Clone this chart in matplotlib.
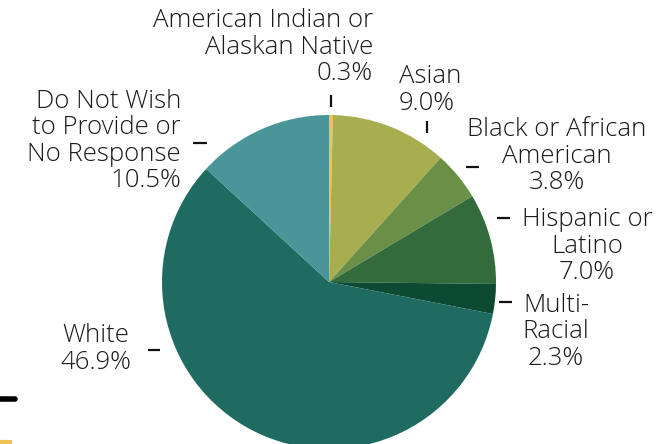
import matplotlib
matplotlib.use("Agg")
import matplotlib.pyplot as plt

# ---------- DATA ----------
categories = ["American Indian or\nAlaskan Native", "Asian", "Black or African\nAmerican",
              "Hispanic or\nLatino", "Multi-\nRacial", "White",
              "Do Not Wish\nto Provide or\nNo Response"]
shares = [0.3, 9.0, 3.8, 7.0, 2.3, 46.9, 10.5]
colors = ["#f0c050", "#a8ae50", "#6a9047", "#346b3c", "#0c4a33", "#1f6b62", "#4a9599"]

# label anchor (pixel coords, y from top), alignment and leader dash
label_pos = [(373, 47, "right"), (399, 90, "left"), (557, 156, "center"),
             (587, 246, "center"), (556, 332, "center"), (96, 349, "center"),
             (181, 141, "right")]
dashes = [((331, 95), (331, 107)), ((427, 121), (427, 133)), ((466, 167), (479, 167)),
          ((497, 218), (510, 218)), ((499, 302), (512, 302)), ((148, 350), (160, 350)),
          ((193, 143), (207, 143))]

W, H = 669, 444
fig = plt.figure(figsize=(W / 100, H / 100), dpi=100)
ax = fig.add_axes([0, 0, 1, 1])

ax.pie(shares, colors=colors, startangle=90, counterclock=False,
       center=(329, H - 282), radius=167, frame=False,
       wedgeprops=dict(linewidth=0))
ax.set_xlim(0, W)
ax.set_ylim(0, H)
ax.set_aspect("equal")
ax.axis("off")

for name, v, (x, y, ha) in zip(categories, shares, label_pos):
    ax.text(x, H - y, f"{name}\n{v:.1f}%", ha=ha, va="center", fontsize=18.5,
            family="Open Sans", fontweight="light", linespacing=1.08, color="#1a1a1a")

for (x0, y0), (x1, y1) in dashes:
    ax.plot([x0, x1], [H - y0, H - y1], color="#111111", lw=1.6, solid_capstyle="butt")

# bits of neighbouring graphics cut off at the left edge
ax.plot([0, 15], [H - 399, H - 399], color="black", lw=4, solid_capstyle="round")
ax.plot([0, 12], [H - 442.5, H - 442.5], color="#f0c050", lw=3, solid_capstyle="butt")

fig.savefig("out.png", dpi=100)
